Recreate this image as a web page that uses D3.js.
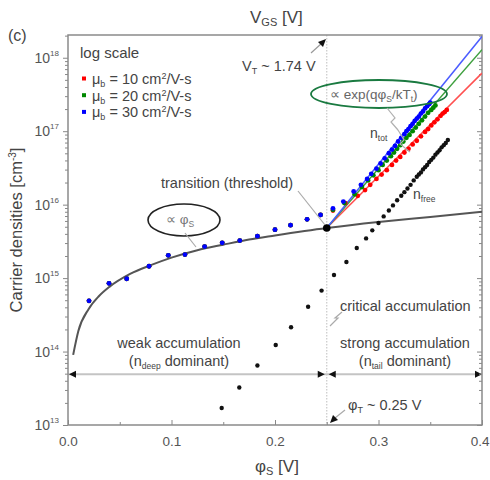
<!DOCTYPE html>
<html><head><meta charset="utf-8">
<script src="https://cdn.jsdelivr.net/npm/d3@7"></script>
<style>
body{margin:0;background:#fff;}
text{font-family:"Liberation Sans",Arial,sans-serif;}
</style></head>
<body><svg id="c" width="490" height="480"></svg>
<script>
// ---- data ----
const xTicks = [0, 0.1, 0.2, 0.3, 0.4];
const xTickLabels = ["0.0", "0.1", "0.2", "0.3", "0.4"];
const yTickExps = [13, 14, 15, 16, 17, 18];

// n_deep curve (gray, ∝ φS)
const phiCurve = [0.005, 0.01, 0.02, 0.03, 0.04, 0.06, 0.08, 0.1, 0.125, 0.15, 0.175, 0.2, 0.25, 0.3, 0.35, 0.4];
const nCurve   = [9.0e13, 1.9e14, 3.8e14, 5.7e14, 7.6e14, 1.14e15, 1.5e15, 1.9e15, 2.4e15, 2.85e15, 3.35e15, 3.8e15, 4.8e15, 5.8e15, 6.8e15, 8.0e15];

// weak accumulation dots (all three mobilities coincide)
const phiWeak = [0.0203, 0.0396, 0.0567, 0.0783, 0.0969, 0.113, 0.132, 0.149, 0.166, 0.183, 0.200, 0.215, 0.231, 0.244];
const nWeak   = [4.9e14, 8.5e14, 9.8e14, 1.45e15, 2.04e15, 2.09e15, 2.69e15, 3.02e15, 3.24e15, 3.72e15, 4.57e15, 5.25e15, 6.31e15, 7.24e15];

// strong accumulation dots
const phiBlue = [0.256,0.266,0.276,0.283,0.289,0.293,0.298,0.302,0.306,0.310,0.313,0.316,0.319,0.322,0.325,0.327,0.329,0.331,0.333,0.335,0.337,0.339,0.341,0.343,0.345,0.347,0.349,0.350];
const nBlue   = [8.91e15,1.10e16,1.51e16,1.86e16,2.24e16,2.63e16,3.09e16,3.63e16,4.27e16,5.01e16,5.62e16,6.31e16,7.24e16,8.13e16,9.12e16,1.0e17,1.07e17,1.17e17,1.26e17,1.38e17,1.48e17,1.58e17,1.74e17,1.86e17,2.04e17,2.19e17,2.34e17,2.45e17];
const phiGreen = [0.256,0.267,0.277,0.284,0.290,0.295,0.300,0.304,0.308,0.312,0.315,0.318,0.321,0.324,0.327,0.330,0.333,0.336,0.339,0.342,0.345,0.348,0.351,0.353,0.355];
const nGreen   = [8.51e15,1.05e16,1.38e16,1.74e16,2.14e16,2.51e16,2.95e16,3.47e16,3.98e16,4.57e16,5.13e16,5.75e16,6.46e16,7.24e16,8.13e16,8.91e16,1.0e17,1.12e17,1.26e17,1.41e17,1.58e17,1.78e17,1.95e17,2.09e17,2.24e17];
const phiRed = [0.256,0.268,0.280,0.287,0.292,0.298,0.303,0.308,0.313,0.317,0.321,0.325,0.329,0.333,0.337,0.341,0.345,0.348,0.351,0.354,0.357,0.360,0.362,0.364,0.366];
const nRed   = [8.32e15,1.05e16,1.32e16,1.58e16,1.86e16,2.24e16,2.57e16,2.95e16,3.47e16,3.98e16,4.47e16,5.13e16,5.75e16,6.61e16,7.41e16,8.51e16,9.77e16,1.07e17,1.20e17,1.32e17,1.45e17,1.62e17,1.74e17,1.82e17,1.95e17];

// n_free dots (black)
const phiFree = [0.1485,0.1655,0.183,0.2007,0.2155,0.232,0.245,0.257,0.269,0.279,0.288,0.294,0.300,0.305,0.310,0.314,0.318,0.322,0.325,0.328,0.331,0.334,0.337,0.339,0.341,0.343,0.345,0.347,0.349,0.351,0.353,0.355,0.357,0.359,0.361,0.363,0.365,0.367];
const nFree   = [1.70e13,3.24e13,6.46e13,1.23e14,2.14e14,4.07e14,6.76e14,1.10e15,1.66e15,2.57e15,3.47e15,4.47e15,5.62e15,6.92e15,8.32e15,9.77e15,1.15e16,1.32e16,1.48e16,1.66e16,1.86e16,2.14e16,2.40e16,2.57e16,2.75e16,3.02e16,3.24e16,3.47e16,3.80e16,4.07e16,4.37e16,4.79e16,5.13e16,5.50e16,6.03e16,6.46e16,6.92e16,7.59e16];

// exponential fit lines from threshold
const phiFit = [0.25, 0.4];
const nFitBlue  = [4.8e15, 1.95e18];
const nFitGreen = [4.8e15, 1.29e18];
const nFitRed   = [4.8e15, 6.17e17];
const phiThreshold = 0.25, nThreshold = 4.8e15;
const nArrowRow = 4.9e13;

// ---- drawing ----
const svg = d3.select("#c");
const L = 68, R = 482, T = 35, B = 425;
const x = d3.scaleLinear().domain([0, 0.4]).range([L, R]);
const y = d3.scaleLog().domain([1e13, 2.04e18]).range([B, T]);
const grayText = "#444";
const FS = 14.5;

svg.append("defs").append("clipPath").attr("id","clip")
  .append("rect").attr("x",L).attr("y",T).attr("width",R-L).attr("height",B-T);

// threshold vertical dotted line
svg.append("line").attr("x1",x(phiThreshold)).attr("x2",x(phiThreshold)).attr("y1",T).attr("y2",B)
  .attr("stroke","#c8c8c8").attr("stroke-width",1.2).attr("stroke-dasharray","1.5,1.5");

// horizontal arrow row
const yA = y(nArrowRow);
svg.append("line").attr("x1",L).attr("x2",R).attr("y1",yA).attr("y2",yA).attr("stroke","#c4c4c4").attr("stroke-width",2);
function tri(xt, dir){ // dir=-1 points left, 1 points right
  svg.append("path").attr("d",`M${xt},${yA} L${xt-dir*7},${yA-3.5} L${xt-dir*7},${yA+3.5} Z`).attr("fill","#111");
}
tri(L+1,-1); tri(x(phiThreshold)-2,1); tri(x(phiThreshold)+2,-1); tri(R,1);

// axes
const gx = svg.append("g").attr("transform",`translate(0,${B})`)
  .call(d3.axisBottom(x).tickValues(xTicks).tickSize(-5).tickFormat((d,i)=>xTickLabels[i]));
const gxm = svg.append("g").attr("transform",`translate(0,${B})`)
  .call(d3.axisBottom(x).tickValues([0.05,0.15,0.25,0.35]).tickSize(-3).tickFormat(""));
const minorY = [];
for (let e = 13; e <= 18; e++) for (let m = 2; m <= 9; m++) { const v = m*Math.pow(10,e); if (v < 2.04e18) minorY.push(v); }
const majorY = yTickExps.map(e=>Math.pow(10,e));
const gy = svg.append("g").attr("transform",`translate(${L},0)`)
  .call(d3.axisLeft(y).tickValues(majorY).tickSize(5).tickFormat(""));
const gym = svg.append("g").attr("transform",`translate(${L},0)`)
  .call(d3.axisLeft(y).tickValues(minorY).tickSize(3).tickFormat(""));
const gyr = svg.append("g").attr("transform",`translate(${R},0)`)
  .call(d3.axisRight(y).tickValues(majorY).tickSize(-5).tickFormat(""));
const gyrm = svg.append("g").attr("transform",`translate(${R},0)`)
  .call(d3.axisRight(y).tickValues(minorY).tickSize(-3).tickFormat(""));
[gx,gxm,gy,gym,gyr,gyrm].forEach(g=>{
  g.select(".domain").remove();
  g.selectAll(".tick line").attr("stroke","#888").attr("stroke-width",1);
});
gx.selectAll(".tick text").attr("dy","1.3em").attr("font-size",13.5).attr("fill","#555").attr("font-family","Liberation Sans, Arial");
// keep the last label inside the picture
gx.selectAll(".tick text").filter((d,i)=>i===xTicks.length-1).attr("text-anchor","end").attr("dx",7);
// y tick labels with superscripts
yTickExps.forEach(e=>{
  const t = svg.append("text").attr("x",59).attr("y",y(Math.pow(10,e))+5).attr("text-anchor","end")
    .attr("font-size",14).attr("fill","#555");
  t.append("tspan").text("10");
  t.append("tspan").attr("font-size",8).attr("dy",-7).text(String(e));
});
// frame
svg.append("rect").attr("x",L).attr("y",T).attr("width",R-L).attr("height",B-T)
  .attr("fill","none").attr("stroke","#8a8a8a").attr("stroke-width",1.5);

const plot = svg.append("g").attr("clip-path","url(#clip)");

// n_deep curve
const line = d3.line().x(d=>x(d[0])).y(d=>y(d[1])).curve(d3.curveMonotoneX);
plot.append("path").datum(d3.zip(phiCurve,nCurve)).attr("d",line)
  .attr("fill","none").attr("stroke","#555").attr("stroke-width",2);

// fit lines
[[nFitRed,"#ff5050"],[nFitGreen,"#3fa03f"],[nFitBlue,"#4b5cff"]].forEach(([ns,c])=>{
  plot.append("path").datum(d3.zip(phiFit,ns)).attr("d",d3.line().x(d=>x(d[0])).y(d=>y(d[1])))
    .attr("fill","none").attr("stroke",c).attr("stroke-width",1.5);
});

// dots
function dots(ph, ns, col, r){
  plot.append("g").selectAll("circle").data(d3.zip(ph,ns)).join("circle")
    .attr("cx",d=>x(d[0])).attr("cy",d=>y(d[1])).attr("r",r).attr("fill",col);
}
dots(phiFree, nFree, "#111", 2.2);
dots(phiWeak, nWeak, "#ff0000", 2.4);
dots(phiRed, nRed, "#ff0000", 2.4);
dots(phiWeak, nWeak, "#008800", 2.4);
dots(phiGreen, nGreen, "#008800", 2.4);
dots(phiWeak, nWeak, "#0000ff", 2.4);
dots(phiBlue, nBlue, "#0000ff", 2.4);
// threshold point
plot.append("circle").attr("cx",x(phiThreshold)).attr("cy",y(nThreshold)).attr("r",3.8).attr("fill","#000");

// ---- text & annotations ----
function txt(xp, yp, s, opt={}){
  return svg.append("text").attr("x",xp).attr("y",yp).attr("font-size",opt.size||FS)
    .attr("fill",opt.fill||grayText).attr("text-anchor",opt.anchor||"start").text(s);
}
txt(8,41,"(c)",{size:16});
// top axis title VGS [V]
{const t = svg.append("text").attr("x",250).attr("y",23).attr("font-size",17).attr("fill",grayText);
 t.append("tspan").text("V"); t.append("tspan").attr("font-size",11).attr("dy",3).text("GS");
 t.append("tspan").attr("dy",-3).text(" [V]");}
// y axis label
{const t = svg.append("text").attr("transform","translate(22,230) rotate(-90)").attr("text-anchor","middle")
   .attr("font-size",16.5).attr("fill",grayText);
 t.append("tspan").text("Carrier densities [cm");
 t.append("tspan").attr("font-size",10).attr("dy",-6).text("-3");
 t.append("tspan").attr("dy",6).text("]");}
// x axis label
{const t = svg.append("text").attr("x",255).attr("y",472).attr("font-size",17).attr("fill",grayText);
 t.append("tspan").text("φ"); t.append("tspan").attr("font-size",11).attr("dy",3).text("S");
 t.append("tspan").attr("dy",-3).text(" [V]");}

// legend
txt(80,58,"log scale",{size:15});
const legCols = ["#ff0000","#008800","#0000ff"], legVals = ["10","20","30"];
legCols.forEach((c,i)=>{
  const yy = 79 + i*16.7;
  svg.append("rect").attr("x",82).attr("y",yy-2.5).attr("width",4).attr("height",4).attr("fill",c);
  const t = svg.append("text").attr("x",92).attr("y",yy+5).attr("font-size",14.5).attr("fill",grayText);
  t.append("tspan").text("μ"); t.append("tspan").attr("font-size",9).attr("dy",3).text("b");
  t.append("tspan").attr("dy",-3).text(" = "+legVals[i]+" cm");
  t.append("tspan").attr("font-size",9).attr("dy",-5).text("2");
  t.append("tspan").attr("dy",5).text("/V-s");
});

// VT annotation
{const t = svg.append("text").attr("x",242).attr("y",71).attr("font-size",14.5).attr("fill",grayText);
 t.append("tspan").text("V"); t.append("tspan").attr("font-size",9).attr("dy",3).text("T");
 t.append("tspan").attr("dy",-3).text(" ~ 1.74 V");}
svg.append("line").attr("x1",311).attr("y1",53).attr("x2",322).attr("y2",43).attr("stroke","#999").attr("stroke-width",1.2);
svg.append("path").attr("d","M326,39 L318,42 L323,47 Z").attr("fill","#111");

// green ellipse
svg.append("ellipse").attr("cx",379).attr("cy",94).attr("rx",68).attr("ry",14).attr("fill","none").attr("stroke","#1a7a40").attr("stroke-width",1.8);
{const t = svg.append("text").attr("x",330).attr("y",99).attr("font-size",13.5).attr("fill","#666");
 t.append("tspan").text("∝ exp(qφ"); t.append("tspan").attr("font-size",8.5).attr("dy",3).text("S");
 t.append("tspan").attr("dy",-3).text("/kT"); t.append("tspan").attr("font-size",8.5).attr("dy",3).text("t");
 t.append("tspan").attr("dy",-3).text(")");}
// n_tot brace
svg.append("path").attr("d","M387,108 L395,118 L391,122 L398,130 M398,130 L404,140 L400,144 L410,152")
  .attr("fill","none").attr("stroke","#b0b0b0").attr("stroke-width",1.2);
{const t = svg.append("text").attr("x",370).attr("y",138).attr("font-size",14).attr("fill",grayText);
 t.append("tspan").text("n"); t.append("tspan").attr("font-size",8.5).attr("dy",3).text("tot");}

// transition (threshold)
txt(161,188,"transition (threshold)",{size:14.5});
svg.append("line").attr("x1",298).attr("y1",191).attr("x2",325).attr("y2",225).attr("stroke","#aaa").attr("stroke-width",1.2);

// black ellipse ∝ φS
svg.append("ellipse").attr("cx",184).attr("cy",220).attr("rx",36).attr("ry",16).attr("fill","none").attr("stroke","#222").attr("stroke-width",1.6);
{const t = svg.append("text").attr("x",166).attr("y",224).attr("font-size",13.5).attr("fill","#777");
 t.append("tspan").text("∝ φ"); t.append("tspan").attr("font-size",8.5).attr("dy",3).text("S");}
svg.append("line").attr("x1",185).attr("y1",233).attr("x2",196).attr("y2",247).attr("stroke","#aaa").attr("stroke-width",1.2);

// n_free
{const t = svg.append("text").attr("x",413).attr("y",199).attr("font-size",14).attr("fill",grayText);
 t.append("tspan").text("n"); t.append("tspan").attr("font-size",8.5).attr("dy",3).text("free");}

// critical accumulation
txt(340,311,"critical accumulation",{size:14.5});
svg.append("path").attr("d","M330,326 L338,318 L335,318 L342,312").attr("fill","none").attr("stroke","#aaa").attr("stroke-width",1.2);

// strong / weak accumulation
txt(405,348,"strong  accumulation",{size:14.5,anchor:"middle"});
{const t = svg.append("text").attr("x",405).attr("y",366).attr("font-size",14.5).attr("fill",grayText).attr("text-anchor","middle");
 t.append("tspan").text("(n"); t.append("tspan").attr("font-size",8.5).attr("dy",3).text("tail");
 t.append("tspan").attr("dy",-3).text(" dominant)");}
txt(179,348,"weak accumulation",{size:14.5,anchor:"middle"});
{const t = svg.append("text").attr("x",179).attr("y",366).attr("font-size",14.5).attr("fill",grayText).attr("text-anchor","middle");
 t.append("tspan").text("(n"); t.append("tspan").attr("font-size",8.5).attr("dy",3).text("deep");
 t.append("tspan").attr("dy",-3).text(" dominant)");}

// φT annotation
{const t = svg.append("text").attr("x",348).attr("y",410).attr("font-size",14.5).attr("fill",grayText);
 t.append("tspan").text("φ"); t.append("tspan").attr("font-size",9).attr("dy",3).text("T");
 t.append("tspan").attr("dy",-3).text(" ~ 0.25 V");}
svg.append("line").attr("x1",345).attr("y1",410).attr("x2",335).attr("y2",418).attr("stroke","#aaa").attr("stroke-width",1.2);
svg.append("path").attr("d","M330,423 L333,415 L338,420 Z").attr("fill","#111");
</script></body></html>
